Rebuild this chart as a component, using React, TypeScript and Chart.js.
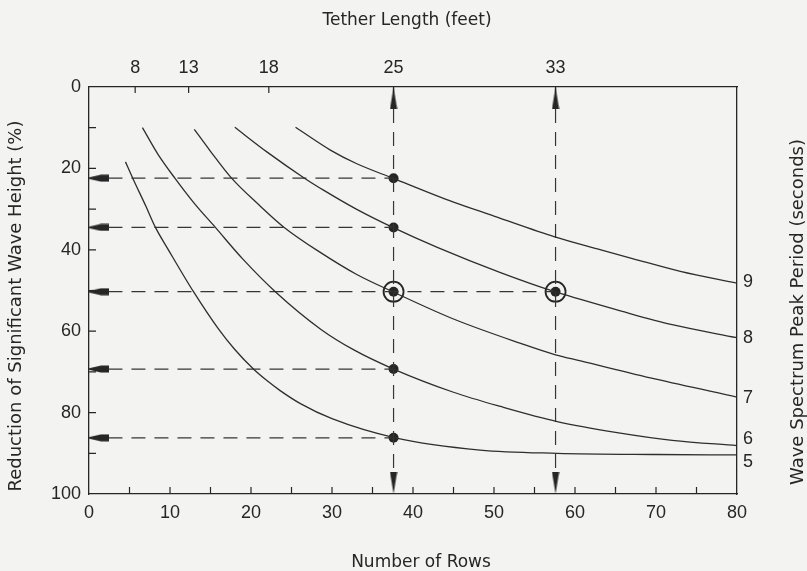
import React, { useEffect, useRef } from 'react';
import { Chart, registerables } from 'chart.js';

Chart.register(...registerables);

// ---------- axis labels ----------
const rowLabels = [0, 10, 20, 30, 40, 50, 60, 70, 80];
const reductionLabels = [0, 20, 40, 60, 80, 100];
const tetherLabels = ['8', '13', '18', '25', '33'];
const tetherRows = [5.7, 12.3, 22.2, 37.6, 57.6];
const periodLabels = ['9', '8', '7', '6', '5'];
const periodLabelReduction = [48.0, 61.8, 76.3, 86.5, 92.2];

const topTitle = 'Tether Length (feet)';
const bottomTitle = 'Number of Rows';
const leftTitle = 'Reduction of Significant Wave Height (%)';
const rightTitle = 'Wave Spectrum Peak Period (seconds)';

// ---------- curves: number of rows vs reduction (%) per peak period ----------
const rows9 = [25.5, 29.8, 33.0, 37.5, 45.0, 50.0, 57.5, 63.2, 67.2, 73.0, 80.0];
const red9 = [9.9, 15.5, 18.8, 22.4, 28.3, 31.7, 36.8, 40.0, 42.2, 45.3, 48.2];

const rows8 = [18.0, 22.0, 26.6, 29.0, 33.0, 37.5, 43.0, 50.8, 57.5, 60.7, 65.6, 72.0, 80.0];
const red8 = [9.9, 16.0, 22.4, 25.4, 30.0, 34.5, 39.4, 45.6, 50.3, 52.2, 55.0, 58.4, 61.6];

const rows7 = [13.0, 15.0, 17.6, 21.0, 24.1, 28.6, 33.0, 37.5, 45.0, 53.3, 57.6, 60.7, 70.0, 80.0];
const red7 = [10.4, 15.8, 22.4, 29.0, 34.5, 40.7, 46.0, 50.3, 57.0, 63.0, 65.8, 67.3, 71.8, 76.2];

const rows6 = [6.6, 8.5, 10.6, 13.0, 15.6, 19.0, 23.0, 28.6, 32.7, 37.6, 45.0, 50.8, 57.8, 65.2, 72.0, 80.0];
const red6 = [10.0, 16.5, 22.4, 28.6, 34.5, 42.3, 50.3, 59.5, 64.6, 69.3, 75.0, 78.5, 82.2, 84.9, 86.8, 88.1];

const rows5 = [4.5, 5.4, 7.0, 8.2, 9.8, 12.9, 16.0, 18.0, 20.3, 22.0, 23.6, 26.1, 30.0, 37.8, 48.3, 57.8, 70.0, 80.0];
const red5 = [18.4, 22.4, 29.2, 34.5, 40.0, 50.3, 59.5, 64.5, 69.3, 72.2, 74.6, 77.8, 81.5, 86.2, 89.2, 90.0, 90.3, 90.4];

// ---------- reading guides ----------
const guideReductions = [22.4, 34.5, 50.3, 69.3, 86.2];
const guideEndRows = [37.6, 37.6, 57.6, 37.6, 37.6];
const guideStartRow = 2.4;
const guideRows = [37.6, 57.6];
const guideTopReduction = 5.4;
const guideBottomReduction = 94.6;
const dotRows = [37.6, 37.6, 37.6, 37.6, 37.6, 57.6];
const dotReductions = [22.4, 34.5, 50.3, 69.3, 86.2, 50.3];
const ringRows = [37.6, 57.6];
const ringReductions = [50.3, 50.3];

const bg = '#f3f3f1';
const ink = '#262626';
const curveColor = '#2e2e2e';
const tickFont = '"Liberation Sans", Arial, sans-serif';
const titleFont = '"DejaVu Sans", sans-serif';

const pts = (xs: number[], ys: number[]) => xs.map((x, i) => ({ x, y: ys[i] }));

function makeArrow(dir: 'up' | 'down' | 'left') {
  const c = document.createElement('canvas');
  const g = c.getContext('2d') as CanvasRenderingContext2D;
  const half = 3.6;
  g.fillStyle = ink;
  if (dir === 'left') {
    const len = 20;
    c.width = 2 * len;
    c.height = 8;
    g.fillStyle = ink;
    g.beginPath();
    g.moveTo(len, 4 - 0.8);
    g.lineTo(len + 12, 4 - half);
    g.lineTo(2 * len, 4 - half);
    g.lineTo(2 * len, 4 + half);
    g.lineTo(len + 12, 4 + half);
    g.lineTo(len, 4 + 0.8);
  } else {
    const len = 22;
    c.width = 8;
    c.height = 2 * len;
    g.fillStyle = ink;
    g.beginPath();
    if (dir === 'up') {
      g.moveTo(4, len);
      g.lineTo(4 + half, 2 * len);
      g.lineTo(4 - half, 2 * len);
    } else {
      g.moveTo(4, len);
      g.lineTo(4 + half, 0);
      g.lineTo(4 - half, 0);
    }
  }
  g.closePath();
  g.fill();
  return c;
}

const bgPlugin = {
  id: 'bgPlugin',
  beforeDraw(chart: any) {
    const ctx = chart.ctx;
    ctx.save();
    ctx.fillStyle = bg;
    ctx.fillRect(0, 0, chart.width, chart.height);
    ctx.restore();
  },
};

const innerTicks = {
  id: 'innerTicks',
  beforeDatasetsDraw(chart: any) {
    const ctx = chart.ctx;
    const { left, top, bottom } = chart.chartArea;
    ctx.save();
    ctx.strokeStyle = ink;
    ctx.lineWidth = 1.2;
    ctx.beginPath();
    const xs = chart.scales.x;
    xs.ticks.forEach((t: any) => {
      if (t.value <= 0 || t.value >= 80) return;
      const p = xs.getPixelForValue(t.value);
      ctx.moveTo(p, bottom);
      ctx.lineTo(p, bottom - 7);
    });
    const ys = chart.scales.y;
    ys.ticks.forEach((t: any) => {
      if (t.value <= 0 || t.value >= 100) return;
      const p = ys.getPixelForValue(t.value);
      ctx.moveTo(left, p);
      ctx.lineTo(left + 7, p);
    });
    const xt = chart.scales.xTop;
    xt.ticks.forEach((t: any) => {
      const p = xt.getPixelForValue(t.value);
      ctx.moveTo(p, top);
      ctx.lineTo(p, top + 6);
    });
    ctx.stroke();
    ctx.restore();
  },
};

const titlesPlugin = {
  id: 'titlesPlugin',
  afterDraw(chart: any) {
    const ctx = chart.ctx;
    ctx.save();
    ctx.fillStyle = ink;
    ctx.textAlign = 'center';
    ctx.textBaseline = 'alphabetic';
    ctx.font = `17px ${titleFont}`;
    ctx.fillText(topTitle, 407, 25);
    ctx.fillText(bottomTitle, 421, 567);
    ctx.font = `18px ${titleFont}`;
    ctx.save();
    ctx.translate(21, 306);
    ctx.rotate(-Math.PI / 2);
    ctx.fillText(leftTitle, 0, 0);
    ctx.restore();
    ctx.save();
    ctx.translate(803, 312);
    ctx.rotate(-Math.PI / 2);
    ctx.fillText(rightTitle, 0, 0);
    ctx.restore();
    ctx.restore();
  },
};

export default function App() {
  const ref = useRef<HTMLCanvasElement>(null);

  useEffect(() => {
    const canvas = ref.current;
    if (!canvas) return;
    const upArrow = makeArrow('up');
    const downArrow = makeArrow('down');
    const leftArrow = makeArrow('left');

    const curve = (label: string, xs: number[], ys: number[]) => ({
      label,
      data: pts(xs, ys),
      showLine: true,
      borderColor: curveColor,
      borderWidth: 1.3,
      pointRadius: 0,
      cubicInterpolationMode: 'monotone' as const,
      fill: false,
      xAxisID: 'x',
      yAxisID: 'y',
    });

    const dashed = (data: { x: number; y: number }[]) => ({
      data,
      showLine: true,
      borderColor: '#363636',
      borderWidth: 1.2,
      borderDash: [14, 9],
      pointRadius: 0,
      fill: false,
      xAxisID: 'x',
      yAxisID: 'y',
    });

    const datasets: any[] = [
      curve('9 s', rows9, red9),
      curve('8 s', rows8, red8),
      curve('7 s', rows7, red7),
      curve('6 s', rows6, red6),
      curve('5 s', rows5, red5),
      ...guideReductions.map((r, i) =>
        dashed([
          { x: guideStartRow, y: r },
          { x: guideEndRows[i], y: r },
        ])
      ),
      ...guideRows.map((x) =>
        dashed([
          { x, y: guideTopReduction },
          { x, y: guideBottomReduction },
        ])
      ),
      {
        data: pts(dotRows, dotReductions),
        pointRadius: 5,
        pointBackgroundColor: ink,
        pointBorderWidth: 0,
        xAxisID: 'x',
        yAxisID: 'y',
      },
      {
        data: pts(ringRows, ringReductions),
        pointRadius: 10,
        pointBackgroundColor: 'rgba(0,0,0,0)',
        pointBorderColor: ink,
        pointBorderWidth: 1.8,
        xAxisID: 'x',
        yAxisID: 'y',
      },
      {
        data: guideReductions.map((r) => ({ x: 0, y: r })),
        pointStyle: leftArrow,
        pointRadius: 3,
        pointBorderWidth: 0,
        xAxisID: 'x',
        yAxisID: 'y',
      },
      {
        data: guideRows.map((x) => ({ x, y: 0 })),
        pointStyle: upArrow,
        pointRadius: 3,
        pointBorderWidth: 0,
        xAxisID: 'x',
        yAxisID: 'y',
      },
      {
        data: guideRows.map((x) => ({ x, y: 100 })),
        pointStyle: downArrow,
        pointRadius: 3,
        pointBorderWidth: 0,
        xAxisID: 'x',
        yAxisID: 'y',
      },
    ];

    const tickStyle = { color: ink, font: { family: tickFont, size: 18 } };
    const border = { display: true, color: ink, width: 1.3 };

    const chart = new Chart(canvas, {
      type: 'scatter',
      data: { datasets },
      options: {
        responsive: false,
        animation: false,
        events: [],
        layout: { padding: 0 },
        plugins: {
          legend: { display: false },
          tooltip: { enabled: false },
          title: { display: false },
        },
        scales: {
          x: {
            type: 'linear',
            position: 'bottom',
            min: 0,
            max: 80,
            afterFit: (s: any) => {
              s.height = 77;
            },
            grid: { display: false, drawTicks: false },
            border,
            ticks: {
              ...tickStyle,
              stepSize: 5,
              autoSkip: false,
              maxRotation: 0,
              padding: 8,
              callback: (v: any) => (rowLabels.includes(Number(v)) ? String(v) : ''),
            },
          },
          xTop: {
            type: 'linear',
            position: 'top',
            min: 0,
            max: 80,
            afterBuildTicks: (s: any) => {
              s.ticks = tetherRows.map((v) => ({ value: v }));
            },
            afterFit: (s: any) => {
              s.height = 87;
            },
            grid: { display: false, drawTicks: false },
            border,
            ticks: {
              ...tickStyle,
              autoSkip: false,
              maxRotation: 0,
              padding: 8,
              callback: (_v: any, i: number) => tetherLabels[i],
            },
          },
          y: {
            type: 'linear',
            position: 'left',
            min: 0,
            max: 100,
            reverse: true,
            afterFit: (s: any) => {
              s.width = 89;
            },
            grid: { display: false, drawTicks: false },
            border,
            ticks: {
              ...tickStyle,
              stepSize: 10,
              autoSkip: false,
              padding: 8,
              callback: (v: any) => (reductionLabels.includes(Number(v)) ? String(v) : ''),
            },
          },
          yRight: {
            type: 'linear',
            position: 'right',
            min: 0,
            max: 100,
            reverse: true,
            afterBuildTicks: (s: any) => {
              s.ticks = periodLabelReduction.map((v) => ({ value: v }));
            },
            afterFit: (s: any) => {
              s.width = 70;
            },
            grid: { display: false, drawTicks: false },
            border,
            ticks: {
              ...tickStyle,
              autoSkip: false,
              padding: 6,
              callback: (_v: any, i: number) => periodLabels[i],
            },
          },
        },
      } as any,
      plugins: [bgPlugin, innerTicks, titlesPlugin],
    });

    return () => chart.destroy();
  }, []);

  return (
    <div style={{ position: 'fixed', left: 0, top: 0, width: 807, height: 571, background: bg }}>
      <canvas ref={ref} width={807} height={571} style={{ display: 'block', width: 807, height: 571 }} />
    </div>
  );
}
